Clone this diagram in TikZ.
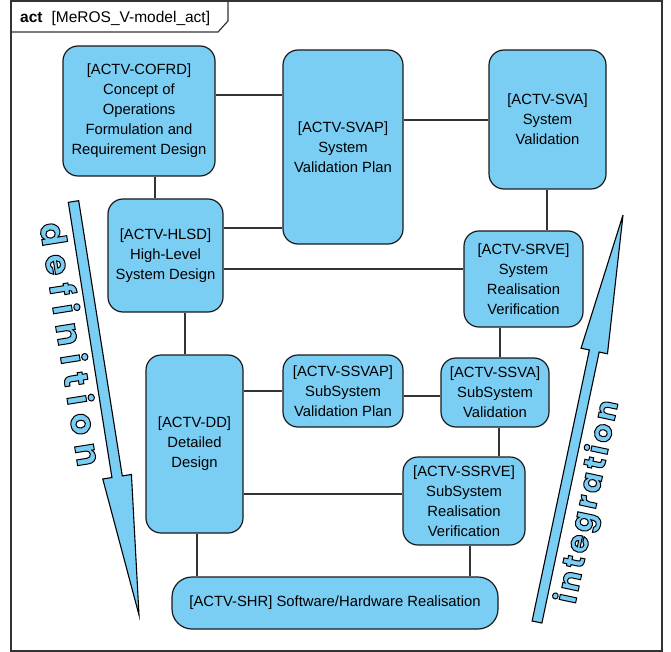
\documentclass[tikz,border=0pt]{standalone}
\usepackage{fontspec}
\setmainfont{Liberation Sans}
\newfontfamily\arrowfont{Poppins}
\usetikzlibrary{calc}
\definecolor{boxblue}{RGB}{122,206,244}
\newcommand\dkx{\kern8.7pt\relax}
\newcommand\ikx{\kern3.3pt\relax}
\newcommand\outlinedtext[1]{\special{pdf:literal direct 2 Tr 1 w 0 0 0 RG}#1\special{pdf:literal direct 0 Tr}}
\begin{document}
\begin{tikzpicture}[x=1pt,y=-1pt,
  act/.style={draw=black!90, line width=1.2pt, fill=boxblue, rounded corners=15pt,
    inner sep=0pt, align=center, font=\fontsize{14.8}{20}\selectfont},
  link/.style={draw=black!80, line width=1.1pt},
  bigarrow/.style={draw=black, line width=1.1pt, fill=boxblue, line join=miter},
  arrowtext/.style={text=boxblue, inner sep=0pt},
  frameline/.style={draw=black!80, line width=1.2pt}]
\useasboundingbox (0,0) rectangle (671,652);
% frame
\draw[frameline] (11,1) rectangle (662,651);
\draw[frameline] (11,32) -- (218,32) -- (228,21) -- (228,1);
\node[anchor=base west, inner sep=0pt, font=\fontsize{15.5}{18}\selectfont] (title) at (20,23)
  {\textbf{act}\hspace{9pt}[MeROS\_V-model\_act]};

% big arrows
\coordinate (dA) at (73.5,201.5);
\coordinate (dB) at (139,615);
\coordinate (dH) at ($(dB)!140pt!(dA)$);
\draw[bigarrow] ($(dA)!5.25pt!90:(dB)$) -- ($(dH)!5.25pt!90:(dB)$) -- ($(dH)!14.5pt!90:(dB)$)
  -- (dB) -- ($(dH)!14.5pt!-90:(dB)$) -- ($(dH)!5.25pt!-90:(dB)$) -- ($(dA)!5.25pt!-90:(dB)$) -- cycle;
\coordinate (iA) at (537,622);
\coordinate (iB) at (623,215);
\coordinate (iH) at ($(iB)!139pt!(iA)$);
\draw[bigarrow] ($(iA)!5pt!90:(iB)$) -- ($(iH)!5pt!90:(iB)$) -- ($(iH)!13.5pt!90:(iB)$)
  -- (iB) -- ($(iH)!13.5pt!-90:(iB)$) -- ($(iH)!5pt!-90:(iB)$) -- ($(iA)!5pt!-90:(iB)$) -- cycle;
\node[arrowtext, rotate=-81, font=\arrowfont\bfseries\fontsize{34}{34}\selectfont] (deftext) at (72,344)
  {\outlinedtext{d\dkx e\dkx f\dkx i\dkx n\dkx i\dkx t\dkx i\dkx o\dkx n}};
\node[arrowtext, rotate=78, font=\arrowfont\bfseries\fontsize{30}{30}\selectfont] (inttext) at (589,502)
  {\outlinedtext{i\ikx n\ikx t\ikx e\ikx g\ikx r\ikx a\ikx t\ikx i\ikx o\ikx n}};

% activity nodes
\node[act, minimum width=152pt, minimum height=130pt] (cofrd) at (139,111)
  {[ACTV-COFRD]\\Concept of\\Operations\\Formulation and\\Requirement Design};
\node[act, minimum width=120pt, minimum height=194pt] (svap) at (343,147)
  {[ACTV-SVAP]\\System\\Validation Plan};
\node[act, minimum width=117pt, minimum height=139pt] (sva) at (547.5,119.5)
  {[ACTV-SVA]\\System\\Validation};
\node[act, minimum width=115pt, minimum height=113pt] (hlsd) at (165.5,255.5)
  {[ACTV-HLSD]\\High-Level\\System Design};
\node[act, minimum width=119pt, minimum height=96pt] (srve) at (523.5,279)
  {[ACTV-SRVE]\\System\\Realisation\\Verification};
\node[act, minimum width=97pt, minimum height=178pt] (dd) at (194.5,444)
  {[ACTV-DD]\\Detailed\\Design};
\node[act, minimum width=120pt, minimum height=72pt] (ssvap) at (343,391)
  {[ACTV-SSVAP]\\SubSystem\\Validation Plan};
\node[act, minimum width=108pt, minimum height=69pt] (ssva) at (495,392.5)
  {[ACTV-SSVA]\\SubSystem\\Validation};
\node[act, minimum width=122pt, minimum height=88pt] (ssrve) at (464,501)
  {[ACTV-SSRVE]\\SubSystem\\Realisation\\Verification};
\node[act, rounded corners=20pt, minimum width=326pt, minimum height=52pt] (shr) at (335,603)
  {[ACTV-SHR] Software/Hardware Realisation};

% connectors
\draw[link] (cofrd.east |- 0,95) -- (svap.west |- 0,95);
\draw[link] (svap.east |- 0,120) -- (sva.west |- 0,120);
\draw[link] (cofrd.south -| 155,0) -- (hlsd.north -| 155,0);
\draw[link] (hlsd.east |- 0,228) -- (svap.west |- 0,228);
\draw[link] (sva.south -| 547,0) -- (srve.north -| 547,0);
\draw[link] (hlsd.east |- 0,269) -- (srve.west |- 0,269);
\draw[link] (hlsd.south -| 185,0) -- (dd.north -| 185,0);
\draw[link] (dd.east |- 0,391) -- (ssvap.west |- 0,391);
\draw[link] (ssvap.east |- 0,396) -- (ssva.west |- 0,396);
\draw[link] (srve.south -| 500,0) -- (ssva.north -| 500,0);
\draw[link] (ssva.south -| 499,0) -- (ssrve.north -| 499,0);
\draw[link] (dd.east |- 0,494) -- (ssrve.west |- 0,494);
\draw[link] (dd.south -| 197,0) -- (shr.north -| 197,0);
\draw[link] (ssrve.south -| 470,0) -- (shr.north -| 470,0);
\end{tikzpicture}
\end{document}
